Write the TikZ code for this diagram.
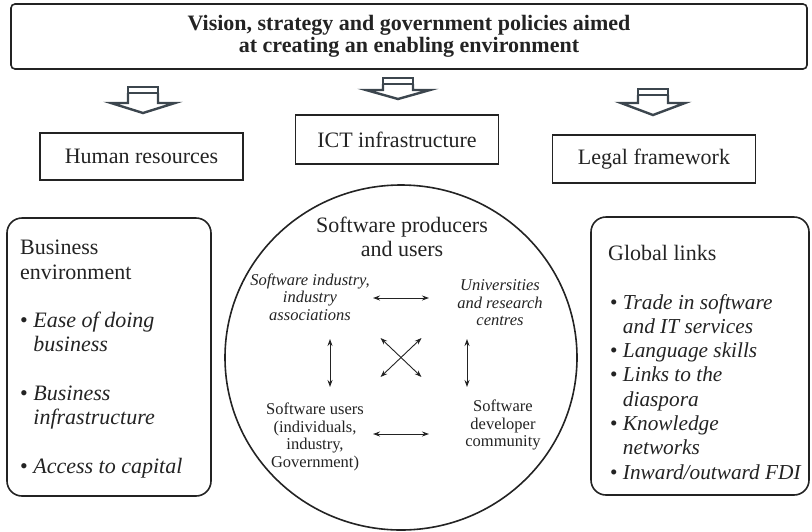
\documentclass[tikz,border=0pt]{standalone}
\usepackage{fontspec}
\setmainfont{Liberation Serif}
\usepackage{tikz}
\usetikzlibrary{shapes.geometric,arrows.meta}

\definecolor{ink}{RGB}{35,35,35}
\definecolor{slate}{RGB}{60,70,78}

\begin{document}
\begin{tikzpicture}[x=1pt, y=-1pt, ink,
	box/.style={draw, line width=1.6pt, minimum width=203pt, minimum height=47pt, font=\fontsize{22}{24}\selectfont},
	rbox/.style={draw, line width=1.6pt, rounded corners=15pt, minimum width=204pt, minimum height=278pt},
	txt/.style={inner sep=0pt, align=left, font=\fontsize{22}{24.3}\selectfont},
	inner/.style={inner sep=0pt, align=center, font=\fontsize{16.5}{17.5}\selectfont},
	dbl/.style={<->, line width=0.9pt, >={Stealth[length=7pt,width=5pt]}},
	blk/.style={draw=slate, line width=2.4pt, line join=miter}]
	\useasboundingbox (0,0) rectangle (812,531);
	% top box
	\node[draw, line width=1.6pt, rounded corners=4pt, minimum width=796pt, minimum height=65pt, align=center, font=\bfseries\fontsize{22}{22}\selectfont] (vision) at (409,36.5)
	{Vision, strategy and government policies aimed\\ at creating an enabling environment};
	% block arrows
	\foreach \x/\t/\h/\p in {143/87/103/113, 398/78/90/99, 653/89/103/115}
	{
		\draw[blk] (\x-15,\t) rectangle (\x+15,\t+6);
		\draw[blk] (\x-15,\t+6) -- (\x-15,\h) -- (\x-32,\h) -- (\x,\p) -- (\x+32,\h) -- (\x+15,\h) -- (\x+15,\t+6);
	}
	% three pillars
	\node[box] (human) at (141.5,156.5) {Human resources};
	\node[box, minimum height=49pt] (ict) at (397,139.5) {ICT infrastructure};
	\node[box, minimum height=48pt] (legal) at (654,159) {Legal framework};
	% side boxes
	\node[rbox] (busenv) at (109,357) {};
	\node[txt, anchor=north west] (bustext) at (20,240)
	{Business\\ environment\\[24.3pt]
		\textbullet\ \textit{Ease of doing}\\ \phantom{\textbullet\ }\textit{business}\\[24.3pt]
		\textbullet\ \textit{Business}\\ \phantom{\textbullet\ }\textit{infrastructure}\\[24.3pt]
		\textbullet\ \textit{Access to capital}};
	\node[rbox, minimum width=218pt] (global) at (700,356) {};
	\node[txt, anchor=north west, font=\fontsize{21.3}{24.3}\selectfont] (globtext) at (608,245)
	{\fontsize{22}{24.3}\selectfont Global links\\[24.3pt]
		\hspace*{2pt}\textbullet\ \textit{Trade in software}\\ \hspace*{2pt}\phantom{\textbullet\ }\textit{and IT services}\\
		\hspace*{2pt}\textbullet\ \textit{Language skills}\\
		\hspace*{2pt}\textbullet\ \textit{Links to the}\\ \hspace*{2pt}\phantom{\textbullet\ }\textit{diaspora}\\
		\hspace*{2pt}\textbullet\ \textit{Knowledge}\\ \hspace*{2pt}\phantom{\textbullet\ }\textit{networks}\\
		\hspace*{2pt}\textbullet\ \textit{Inward/outward FDI}};
	% producers and users
	\node[draw, ellipse, line width=1.6pt, inner sep=0pt, minimum width=352pt, minimum height=345pt] (sware) at (401,357.5) {};
	\node[inner sep=0pt, align=center, font=\fontsize{22}{24}\selectfont] (prod) at (402,237) {Software producers\\ and users};
	\node[inner, font=\itshape\fontsize{16.5}{17.5}\selectfont] (indus) at (310,297) {Software industry,\\ industry\\ associations};
	\node[inner, font=\itshape\fontsize{16.5}{17.5}\selectfont] (univ) at (500,303) {Universities\\ and research\\ centres};
	\node[inner] (users) at (315,437) {Software users\\ (individuals,\\ industry,\\ Government)};
	\node[inner] (devel) at (503,425) {Software\\ developer\\ community};
	\draw[dbl] ([shift={(-28,-59.5)}]sware.center) -- ([shift={(28,-59.5)}]sware.center);
	\draw[dbl] ([shift={(-28,76.5)}]sware.center) -- ([shift={(28,76.5)}]sware.center);
	\draw[dbl] ([shift={(-71,-18.5)}]sware.center) -- ([shift={(-71,29.5)}]sware.center);
	\draw[dbl] ([shift={(66,-18.5)}]sware.center) -- ([shift={(66,29.5)}]sware.center);
	\draw[dbl] ([shift={(-20.5,-19.5)}]sware.center) -- ([shift={(20.5,19.5)}]sware.center);
	\draw[dbl] ([shift={(20.5,-19.5)}]sware.center) -- ([shift={(-20.5,19.5)}]sware.center);
\end{tikzpicture}
\end{document}
